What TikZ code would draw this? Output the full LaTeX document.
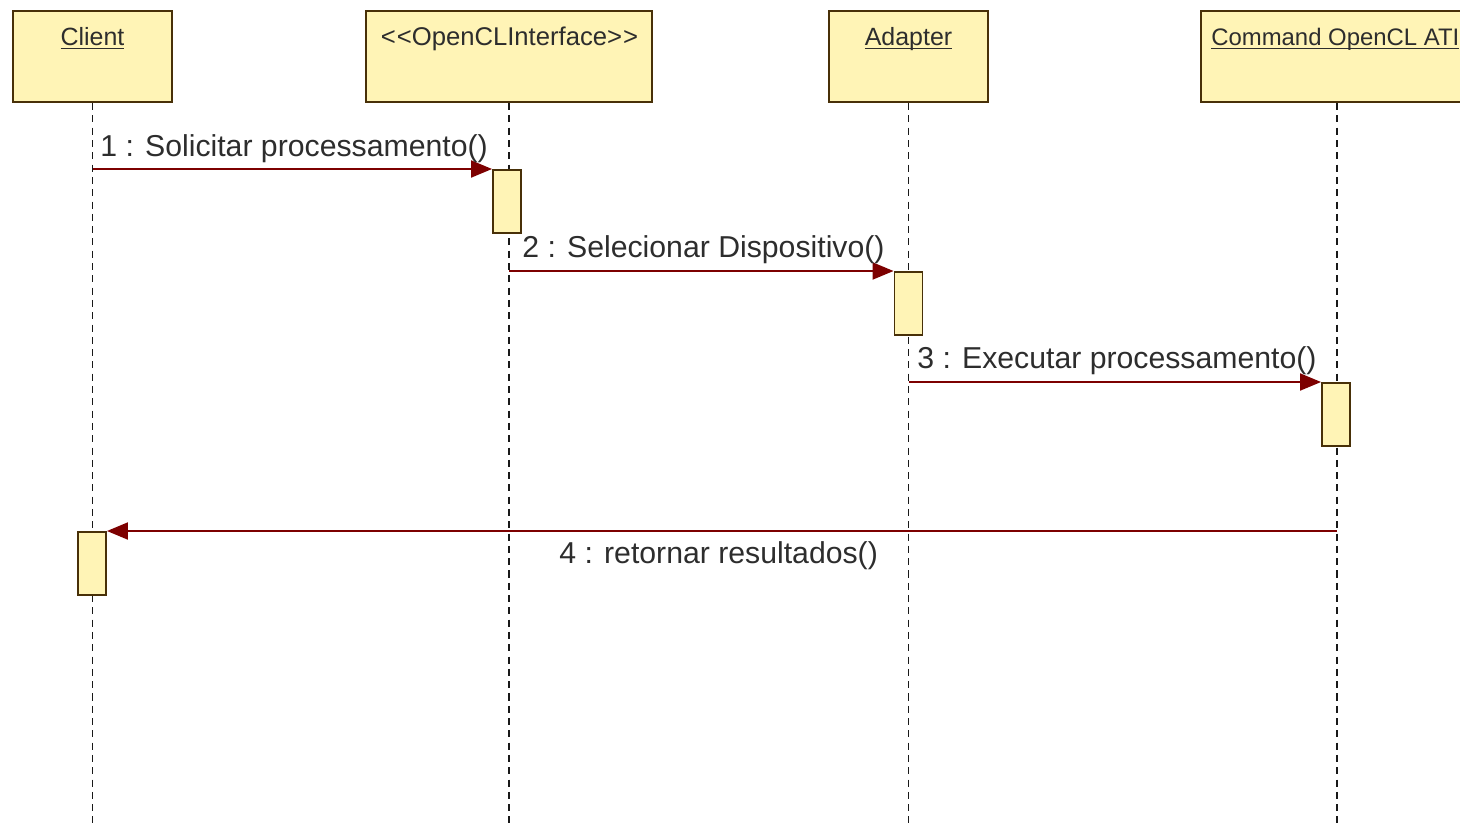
\documentclass[tikz,border=0pt]{standalone}
\usepackage{fontspec}
\setmainfont{Liberation Sans}
\usetikzlibrary{arrows.meta}
\definecolor{boxfill}{RGB}{255,244,182}
\definecolor{boxline}{RGB}{72,48,8}
\definecolor{msgred}{RGB}{125,0,0}
\definecolor{txt}{RGB}{45,45,45}
\newcommand\myul[1]{\setbox0\hbox{#1}\rlap{\rule[-2.2pt]{\wd0}{0.7pt}}#1}
\tikzset{
  x=0.02cm, y=-0.02cm,
  objbox/.style={draw=boxline, fill=boxfill, line width=1.3pt, inner sep=0pt, minimum height=1.82cm},
  objlabel/.style={text=txt, font=\fontsize{14.2}{16}\selectfont, inner sep=0pt},
  lifeline/.style={draw=black!90, line width=1.1pt, dash pattern=on 4pt off 3pt},
  actbox/.style={draw=boxline, fill=boxfill, line width=1.1pt, inner sep=0pt, minimum width=0.56cm, minimum height=1.26cm, anchor=north},
  msg/.style={draw=msgred, line width=1.1pt, -{Triangle[length=0.42cm, width=0.34cm, fill=msgred]}},
  msglabel/.style={text=txt, font=\fontsize{17.2}{19}\selectfont, inner sep=0pt, anchor=west}
}
\begin{document}
\begin{tikzpicture}
\useasboundingbox (0,0) rectangle (1460,832);
\clip (0,0) rectangle (1460,832);
% objects
\node[objbox, minimum width=3.18cm] (client) at (92.5,56.5) {};
\node[objbox, minimum width=5.72cm] (ocl) at (509,56.5) {};
\node[objbox, minimum width=3.18cm] (adapter) at (908.5,56.5) {};
\node[objbox, minimum width=5.44cm] (cmd) at (1337,56.5) {};
\node[objlabel, anchor=base] (clientL) at (92.5,45) {\myul{Client}};
\node[objlabel, anchor=base, font=\fontsize{14.6}{16}\selectfont] (oclL) at (509.5,45) {<\kern0.6pt<OpenCLInterface>\kern0.6pt>};
\node[objlabel, anchor=base] (adapterL) at (908.5,45) {\myul{Adapter}};
\node[objlabel, anchor=base west, font=\fontsize{13.6}{16}\selectfont] (cmdL) at (1211,45) {\myul{Command OpenCL ATI}};
% lifeline ends
\coordinate (clientE) at (92.5,828);
\coordinate (oclE) at (509,828);
\coordinate (adapterE) at (908.5,828);
\coordinate (cmdE) at (1337,828);
\draw[lifeline] (client.south) -- (clientE);
\draw[lifeline] (ocl.south) -- (oclE);
\draw[lifeline] (adapter.south) -- (adapterE);
\draw[lifeline] (cmd.south) -- (cmdE);
% activations
\node[actbox] (a1) at (507,169) {};
\node[actbox] (a2) at (908.5,271) {};
\node[actbox] (a3) at (1336,382) {};
\node[actbox] (a4) at (92,531) {};
% message starts
\coordinate (m1s) at (92.5,169);
\coordinate (m2s) at (509,271);
\coordinate (m3s) at (908.5,382);
\coordinate (m4s) at (1337,531);
\draw[msg] (m1s) -- (a1.north west);
\draw[msg] (m2s) -- (a2.north west);
\draw[msg] (m3s) -- (a3.north west);
\draw[msg] (m4s) -- (a4.north east);
% labels
\node[msglabel] (l1) at (100,149) {1 : Solicitar processamento()};
\node[msglabel] (l2) at (522,250) {2 : Selecionar Dispositivo()};
\node[msglabel] (l3) at (917,361) {3 : Executar processamento()};
\node[msglabel] (l4) at (559,556) {4 : retornar resultados()};
\end{tikzpicture}
\end{document}
